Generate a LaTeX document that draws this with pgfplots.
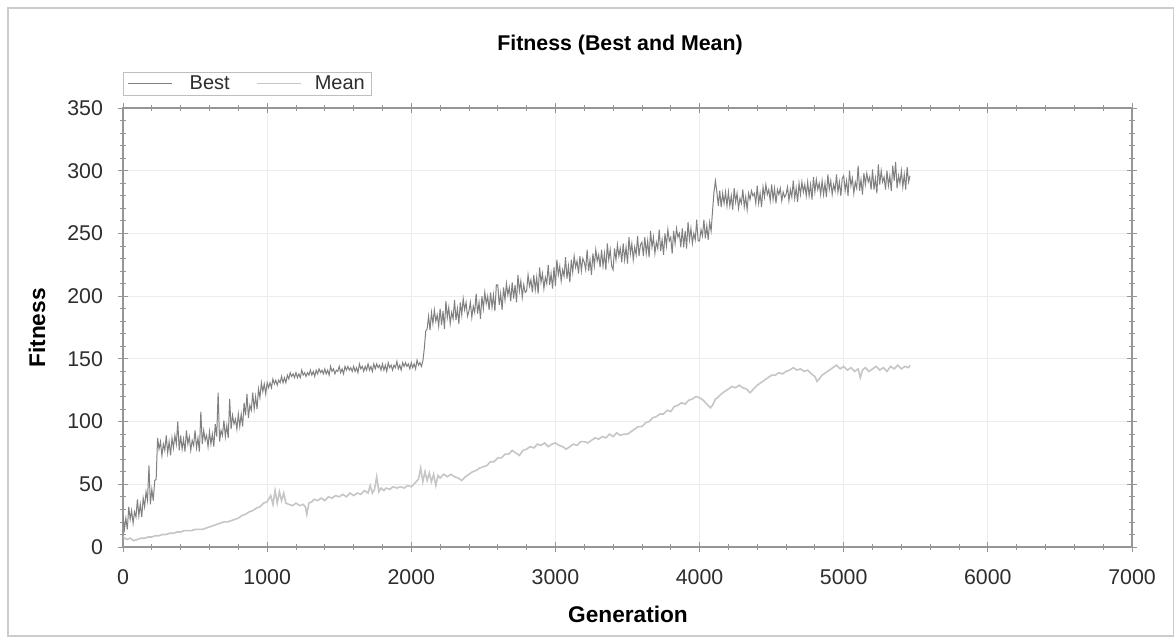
\documentclass[border=0pt]{standalone}
\usepackage{fontspec}
\setmainfont{Liberation Sans}
\usepackage{pgfplots}
\pgfplotsset{compat=1.18}
\definecolor{bestc}{RGB}{128,128,128}
\definecolor{meanc}{RGB}{198,198,198}
\definecolor{axc}{RGB}{150,150,150}
\definecolor{gridc}{RGB}{236,236,236}
\definecolor{txt}{RGB}{45,45,45}
\begin{document}
\begin{tikzpicture}[x=1pt,y=1pt]
\path[use as bounding box] (0,0) rectangle (880.5,480);
\draw[gray!40, line width=0.8pt] (6,3) rectangle (879.8,474);
\begin{axis}[at={(92.25pt,69.75pt)}, anchor=south west, scale only axis,
  width=756.75pt, height=329.25pt,
  xmin=0, xmax=7000, ymin=0, ymax=350,
  xtick={0,1000,...,7000}, ytick={0,50,...,350},
  minor x tick num=4, minor y tick num=4,
  axis line style={axc, line width=0.8pt},
  tick style={axc, line width=0.6pt},
  major tick length=7pt, minor tick length=4pt, tick align=center,
  grid=major, major grid style={gridc, line width=0.6pt},
  ticklabel style={font=\fontsize{16}{18}\selectfont, text=txt},
  /pgf/number format/assume math mode=true,
  /pgf/number format/1000 sep={},
  scaled ticks=false,
  xticklabel style={yshift=-10pt},
  yticklabel style={xshift=-8pt},
  legend columns=2,
  legend style={at={(0,1)}, anchor=south west, yshift=9pt,
    draw=gray!50, line width=0.5pt, font=\fontsize{15}{17}\selectfont, text=txt,
    inner xsep=3pt, inner ysep=1pt,
    /tikz/every even column/.append style={column sep=18pt}},
  legend image code/.code={\draw[#1, line width=0.8pt] (0pt,0pt) -- (33pt,0pt);},
]
\addplot[bestc, line width=0.75pt] coordinates {
(0,24)(10,14)(20,23)(30,14)(40,32)(50,22)(60,29)(70,19)(80,28)(90,24)(100,38)(110,25)(120,34)(130,24)(140,39)(150,32)(160,44)(170,37)(180,65)(190,34)
(200,46)(210,37)(220,53)(230,54)(240,87)(250,78)(260,84)(270,73)(280,82)(290,77)(300,89)(310,75)(320,84)(330,73)(340,87)(350,79)(360,89)(370,82)(380,100)(390,77)
(400,89)(410,78)(420,86)(430,76)(440,93)(450,82)(460,88)(470,77)(480,85)(490,81)(500,93)(510,79)(520,87)(530,76)(540,108)(550,82)(560,93)(570,85)(580,89)(590,80)
(600,92)(610,82)(620,90)(630,80)(640,98)(650,88)(660,123)(670,84)(680,93)(690,89)(700,101)(710,88)(720,97)(730,87)(740,118)(750,94)(760,105)(770,98)(780,102)(790,94)
(800,106)(810,96)(820,106)(830,96)(840,115)(850,105)(860,122)(870,103)(880,113)(890,109)(900,123)(910,110)(920,120)(930,110)(940,126)(950,119)(960,131)(970,124)(980,130)(990,122)
(1000,131)(1010,127)(1020,131)(1030,127)(1040,134)(1050,130)(1060,133)(1070,129)(1080,133)(1090,131)(1100,136)(1110,131)(1120,135)(1130,131)(1140,137)(1150,134)(1160,139)(1170,136)(1180,138)(1190,135)
(1200,139)(1210,135)(1220,138)(1230,135)(1240,141)(1250,137)(1260,139)(1270,136)(1280,139)(1290,137)(1300,141)(1310,137)(1320,140)(1330,136)(1340,141)(1350,138)(1360,142)(1370,139)(1380,141)(1390,138)
(1400,142)(1410,138)(1420,141)(1430,137)(1440,144)(1450,140)(1460,142)(1470,138)(1480,141)(1490,140)(1500,144)(1510,139)(1520,142)(1530,138)(1540,144)(1550,141)(1560,144)(1570,141)(1580,143)(1590,140)
(1600,144)(1610,140)(1620,143)(1630,139)(1640,146)(1650,142)(1660,144)(1670,140)(1680,144)(1690,141)(1700,146)(1710,141)(1720,144)(1730,140)(1740,146)(1750,142)(1760,146)(1770,143)(1780,145)(1790,141)
(1800,146)(1810,141)(1820,145)(1830,140)(1840,147)(1850,143)(1860,145)(1870,141)(1880,145)(1890,143)(1900,148)(1910,142)(1920,145)(1930,141)(1940,147)(1950,144)(1960,147)(1970,144)(1980,146)(1990,142)
(2000,147)(2010,143)(2020,146)(2030,142)(2040,149)(2050,145)(2060,147)(2070,144)(2080,148)(2090,158)(2100,172)(2110,174)(2120,184)(2130,173)(2140,187)(2150,178)(2160,189)(2170,180)(2180,185)(2190,176)
(2200,190)(2210,177)(2220,188)(2230,174)(2240,196)(2250,183)(2260,191)(2270,178)(2280,187)(2290,182)(2300,197)(2310,181)(2320,190)(2330,178)(2340,195)(2350,185)(2360,198)(2370,189)(2380,195)(2390,184)
(2400,188)(2410,195)(2420,183)(2430,192)(2440,187)(2450,202)(2460,186)(2470,195)(2480,182)(2490,200)(2500,190)(2510,203)(2520,194)(2530,200)(2540,189)(2550,203)(2560,191)(2570,201)(2580,188)(2590,209)
(2600,209)(2610,193)(2620,202)(2630,189)(2640,207)(2650,197)(2660,210)(2670,201)(2680,207)(2690,196)(2700,211)(2710,198)(2720,209)(2730,195)(2740,217)(2750,204)(2760,212)(2770,199)(2780,209)(2790,203)
(2800,204)(2810,217)(2820,208)(2830,213)(2840,203)(2850,217)(2860,205)(2870,215)(2880,202)(2890,223)(2900,211)(2910,218)(2920,206)(2930,215)(2940,210)(2950,225)(2960,209)(2970,218)(2980,206)(2990,223)
(3000,208)(3010,229)(3020,217)(3030,224)(3040,212)(3050,221)(3060,216)(3070,231)(3080,214)(3090,224)(3100,211)(3110,229)(3120,219)(3130,232)(3140,223)(3150,228)(3160,218)(3170,232)(3180,220)(3190,230)
(3200,227)(3210,221)(3220,237)(3230,220)(3240,229)(3250,217)(3260,234)(3270,224)(3280,237)(3290,228)(3300,233)(3310,223)(3320,237)(3330,224)(3340,234)(3350,221)(3360,242)(3370,229)(3380,237)(3390,224)
(3400,221)(3410,238)(3420,229)(3430,241)(3440,232)(3450,238)(3460,227)(3470,242)(3480,229)(3490,239)(3500,226)(3510,247)(3520,234)(3530,242)(3540,229)(3550,239)(3560,233)(3570,248)(3580,232)(3590,241)
(3600,243)(3610,232)(3620,247)(3630,234)(3640,244)(3650,231)(3660,252)(3670,239)(3680,247)(3690,234)(3700,243)(3710,238)(3720,253)(3730,236)(3740,245)(3750,233)(3760,250)(3770,240)(3780,253)(3790,244)
(3800,247)(3810,234)(3820,252)(3830,242)(3840,254)(3850,247)(3860,250)(3870,239)(3880,254)(3890,239)(3900,252)(3910,238)(3920,259)(3930,245)(3940,254)(3950,242)(3960,250)(3970,245)(3980,261)(3990,244)
(4000,244)(4010,253)(4020,248)(4030,261)(4040,246)(4050,256)(4060,245)(4070,259)(4080,252)(4090,268)(4100,283)(4110,292)(4120,283)(4130,272)(4140,284)(4150,271)(4160,282)(4170,274)(4180,283)(4190,272)
(4200,283)(4210,272)(4220,280)(4230,269)(4240,286)(4250,275)(4260,282)(4270,270)(4280,278)(4290,274)(4300,285)(4310,271)(4320,279)(4330,269)(4340,282)(4350,277)(4360,284)(4370,280)(4380,282)(4390,274)
(4400,288)(4410,274)(4420,282)(4430,271)(4440,287)(4450,279)(4460,289)(4470,281)(4480,285)(4490,276)(4500,289)(4510,277)(4520,286)(4530,274)(4540,285)(4550,281)(4560,286)(4570,276)(4580,283)(4590,279)
(4600,281)(4610,287)(4620,276)(4630,285)(4640,279)(4650,292)(4660,278)(4670,286)(4680,275)(4690,290)(4700,281)(4710,291)(4720,283)(4730,289)(4740,280)(4750,291)(4760,280)(4770,289)(4780,277)(4790,295)
(4800,283)(4810,293)(4820,285)(4830,290)(4840,281)(4850,292)(4860,281)(4870,290)(4880,279)(4890,297)(4900,285)(4910,292)(4920,281)(4930,289)(4940,284)(4950,297)(4960,283)(4970,291)(4980,280)(4990,294)
(5000,296)(5010,284)(5020,292)(5030,280)(5040,300)(5050,288)(5060,294)(5070,282)(5080,291)(5090,286)(5100,304)(5110,284)(5120,293)(5130,281)(5140,298)(5150,289)(5160,298)(5170,291)(5180,295)(5190,285)
(5200,301)(5210,285)(5220,294)(5230,282)(5240,305)(5250,289)(5260,300)(5270,291)(5280,295)(5290,285)(5300,300)(5310,288)(5320,296)(5330,284)(5340,304)(5350,292)(5360,307)(5370,286)(5380,296)(5390,290)
(5400,300)(5410,287)(5420,297)(5430,285)(5440,303)(5450,291)(5460,296)
};
\addlegendentry{\hspace{11pt}Best}
\addplot[meanc, line width=1.2pt] coordinates {
(0,8)(25,6)(50,7)(75,5)(100,6)(125,7)(150,7)(175,8)(200,8)(225,9)(250,9)(275,10)(300,10)(325,11)(350,11)(375,12)(400,12)(425,13)(450,13)(475,13)
(500,14)(525,14)(550,14)(575,15)(600,16)(625,17)(650,18)(675,19)(700,20)(725,20)(750,21)(775,22)(800,23)(825,25)(850,26)(875,28)(900,29)(925,31)(950,32)(975,35)
(1000,36)(1025,41)(1040,34)(1055,45)(1070,35)(1085,44)(1100,37)(1115,43)(1130,35)(1150,34)(1175,33)(1200,35)(1225,33)(1250,34)(1265,32)(1275,26)(1290,35)(1310,36)(1325,38)(1350,37)
(1375,39)(1400,37)(1425,40)(1450,39)(1475,41)(1500,40)(1525,42)(1550,40)(1575,43)(1600,41)(1625,43)(1650,42)(1675,45)(1700,43)(1715,49)(1730,43)(1745,46)(1760,56)(1775,44)(1790,47)
(1810,45)(1825,47)(1850,46)(1875,48)(1900,47)(1925,48)(1950,47)(1975,49)(2000,48)(2025,51)(2050,54)(2065,63)(2080,52)(2095,60)(2110,53)(2125,59)(2140,52)(2155,58)(2170,49)(2185,57)
(2200,55)(2225,58)(2250,56)(2275,58)(2300,56)(2325,55)(2350,53)(2375,56)(2400,58)(2425,60)(2450,61)(2475,63)(2500,64)(2525,65)(2550,68)(2575,68)(2600,71)(2625,71)(2650,74)(2675,74)
(2700,77)(2725,75)(2750,73)(2775,77)(2800,78)(2825,80)(2850,79)(2875,82)(2900,81)(2925,83)(2950,80)(2975,82)(3000,83)(3025,81)(3050,80)(3075,78)(3100,80)(3125,82)(3150,81)(3175,84)
(3200,84)(3225,83)(3250,85)(3275,87)(3300,86)(3325,88)(3350,87)(3375,90)(3400,88)(3425,91)(3450,89)(3475,90)(3500,90)(3525,92)(3550,94)(3575,96)(3600,96)(3625,99)(3650,100)(3675,103)
(3700,104)(3725,106)(3750,106)(3775,109)(3800,108)(3825,112)(3850,113)(3875,115)(3900,114)(3925,117)(3950,118)(3975,120)(4000,119)(4025,117)(4050,114)(4075,111)(4090,113)(4110,118)(4125,119)(4150,122)
(4175,124)(4200,126)(4225,128)(4250,127)(4275,129)(4300,127)(4325,126)(4350,123)(4375,126)(4400,129)(4425,131)(4450,133)(4475,135)(4500,137)(4525,137)(4550,139)(4575,138)(4600,140)(4625,141)(4650,143)
(4675,141)(4700,142)(4725,140)(4750,141)(4775,138)(4800,136)(4815,132)(4830,134)(4850,137)(4875,139)(4900,141)(4925,143)(4950,145)(4975,142)(5000,144)(5025,141)(5050,143)(5075,140)(5100,142)(5115,135)
(5130,141)(5150,143)(5175,140)(5200,142)(5225,144)(5250,141)(5275,143)(5300,140)(5325,144)(5350,142)(5375,145)(5400,142)(5425,144)(5450,143)(5460,145)
};
\addlegendentry{\hspace{8pt}Mean}
\end{axis}
\node[font=\bfseries\fontsize{16}{18}\selectfont] at (465,446.25) {Fitness (Best and Mean)};
\node[font=\bfseries\fontsize{17}{19}\selectfont, rotate=90] at (27.75,234) {Fitness};
\node[font=\bfseries\fontsize{17}{19}\selectfont] at (471,19.5) {Generation};
\end{tikzpicture}
\end{document}
